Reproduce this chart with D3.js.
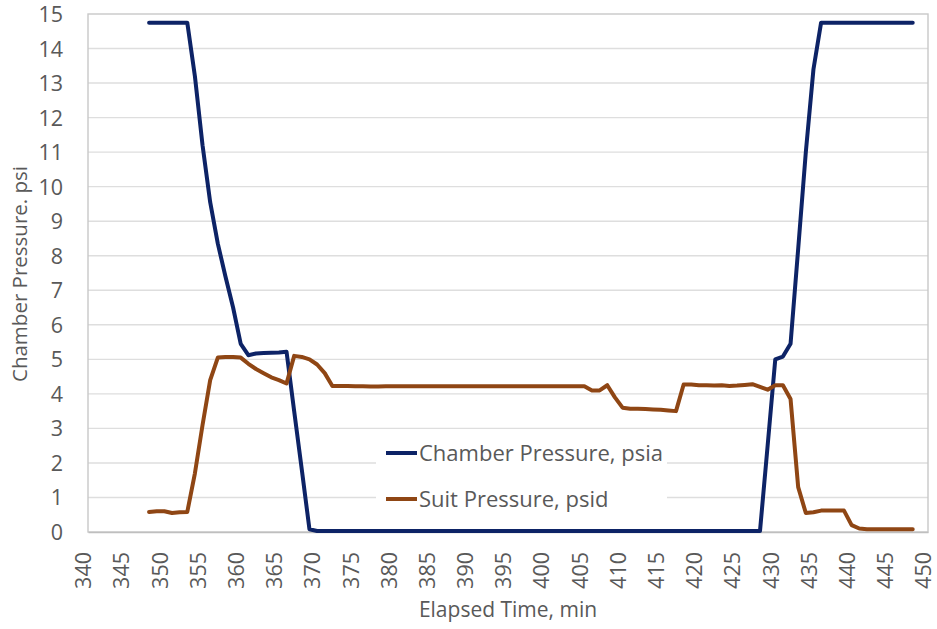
<!DOCTYPE html>
<html><head><meta charset="utf-8">
<script src="https://cdn.jsdelivr.net/npm/d3@7"></script>
<style>
body{margin:0;background:#fff}
svg{display:block}
text{font-family:"Open Sans",sans-serif;fill:#595959}
</style>
</head><body>
<svg id="chart" width="937" height="629"></svg>
<script>
const elapsedTime = [348,349,350,351,352,353,354,355,356,357,358,359,360,361,362,363,364,365,366,367,368,369,370,
371,372,373,374,375,376,377,378,379,380,381,382,383,384,385,386,387,388,389,390,391,392,393,394,395,396,397,398,399,400,
401,402,403,404,405,406,407,408,409,410,411,412,413,414,415,416,417,418,419,420,421,422,423,424,425,426,427,428,
429,430,431,432,433,434,435,436,437,438,439,440,441,442,443,444,445,446,447,448];

const chamberPressure = [14.75,14.75,14.75,14.75,14.75,14.75,13.2,11.2,9.55,8.35,7.4,6.5,5.45,5.12,5.17,5.18,5.19,5.2,5.22,3.5,1.8,0.08,0.03,
0.03,0.03,0.03,0.03,0.03,0.03,0.03,0.03,0.03,0.03,0.03,0.03,0.03,0.03,0.03,0.03,0.03,0.03,0.03,0.03,0.03,0.03,0.03,0.03,0.03,0.03,0.03,0.03,0.03,0.03,
0.03,0.03,0.03,0.03,0.03,0.03,0.03,0.03,0.03,0.03,0.03,0.03,0.03,0.03,0.03,0.03,0.03,0.03,0.03,0.03,0.03,0.03,0.03,0.03,0.03,0.03,0.03,0.03,
2.5,5.0,5.08,5.45,8.2,11.0,13.4,14.75,14.75,14.75,14.75,14.75,14.75,14.75,14.75,14.75,14.75,14.75,14.75,14.75];

const suitPressure = [0.58,0.6,0.6,0.55,0.57,0.58,1.7,3.1,4.4,5.05,5.07,5.07,5.05,4.87,4.72,4.6,4.48,4.4,4.3,5.1,5.07,5.0,4.85,
4.6,4.23,4.23,4.23,4.22,4.22,4.21,4.21,4.22,4.22,4.22,4.22,4.22,4.22,4.22,4.22,4.22,4.22,4.22,4.22,4.22,4.22,4.22,4.22,4.22,4.22,4.22,4.22,4.22,4.22,
4.22,4.22,4.22,4.22,4.22,4.1,4.1,4.25,3.9,3.6,3.57,3.57,3.56,3.55,3.54,3.52,3.5,4.27,4.27,4.25,4.25,4.24,4.25,4.23,4.24,4.26,4.28,4.2,
4.12,4.25,4.25,3.85,1.3,0.55,0.57,0.62,0.62,0.62,0.62,0.2,0.1,0.08,0.08,0.08,0.08,0.08,0.08,0.08];

const xTickValues = [340,345,350,355,360,365,370,375,380,385,390,395,400,405,410,415,420,425,430,435,440,445,450];
const yTickValues = [0,1,2,3,4,5,6,7,8,9,10,11,12,13,14,15];
const seriesNames = ["Chamber Pressure, psia","Suit Pressure, psid"];
const seriesColors = ["#0d2366","#8f4614"];
const xTitle = "Elapsed Time, min";
const yTitle = "Chamber Pressure. psi";

const svg = d3.select("#chart");
const L = 88, R = 928, T = 14, B = 532;
const x = d3.scaleLinear().domain([340,450]).range([L,R]);
const y = d3.scaleLinear().domain([0,15]).range([B,T]);

// gridlines
svg.append("g").selectAll("line").data(yTickValues.filter(v=>v>0 && v<15)).join("line")
  .attr("x1",L).attr("x2",R).attr("y1",d=>y(d)).attr("y2",d=>y(d))
  .attr("stroke","#dedede").attr("stroke-width",1.4);

// plot border
svg.append("rect").attr("x",L).attr("y",T).attr("width",R-L).attr("height",B-T)
  .attr("fill","none").attr("stroke","#c8c8c8").attr("stroke-width",1.4);

// y axis
const yAxis = svg.append("g").attr("transform",`translate(${L},0)`)
  .call(d3.axisLeft(y).tickValues(yTickValues).tickSize(0).tickPadding(25).tickFormat(d3.format("d")));
yAxis.select(".domain").remove();
yAxis.selectAll("text").attr("font-size",21.5).attr("fill","#595959").style("font-family","'Open Sans',sans-serif").attr("dy","0.35em");

// x axis
const xAxis = svg.append("g").attr("transform",`translate(0,${B})`)
  .call(d3.axisBottom(x).tickValues(xTickValues).tickSize(0).tickFormat(d3.format("d")));
xAxis.select(".domain").attr("stroke","#bfbfbf").attr("stroke-width",1.6);
xAxis.selectAll("text")
  .attr("font-size",21.5).attr("fill","#595959").style("font-family","'Open Sans',sans-serif")
  .attr("text-anchor","end").attr("transform","rotate(-90)")
  .attr("x",-20).attr("y",0).attr("dy","0.13em");

// lines
const series = [chamberPressure, suitPressure];
const line = d3.line().x((d,i)=>x(elapsedTime[i])).y(d=>y(d));
series.forEach((vals,k)=>{
  svg.append("path").datum(vals).attr("d",line)
    .attr("fill","none").attr("stroke",seriesColors[k]).attr("stroke-width",4)
    .attr("stroke-linejoin","round").attr("stroke-linecap","round");
});

// legend
const lg = svg.append("g");
lg.append("rect").attr("x",376).attr("y",437).attr("width",291).attr("height",88).attr("fill","#fff");
const legendY = [453, 499];
seriesNames.forEach((n,k)=>{
  lg.append("line").attr("x1",386).attr("x2",417).attr("y1",legendY[k]).attr("y2",legendY[k])
    .attr("stroke",seriesColors[k]).attr("stroke-width",4);
  lg.append("text").attr("x",419).attr("y",legendY[k]).attr("dy","0.35em")
    .attr("font-size",22).text(n);
});

// axis titles
svg.append("text").attr("x",(L+R)/2).attr("y",617).attr("text-anchor","middle")
  .attr("font-size",21).text(xTitle);
svg.append("text").attr("transform","translate(27,274) rotate(-90)").attr("text-anchor","middle")
  .attr("font-size",20.5).text(yTitle);
</script>
</body></html>
